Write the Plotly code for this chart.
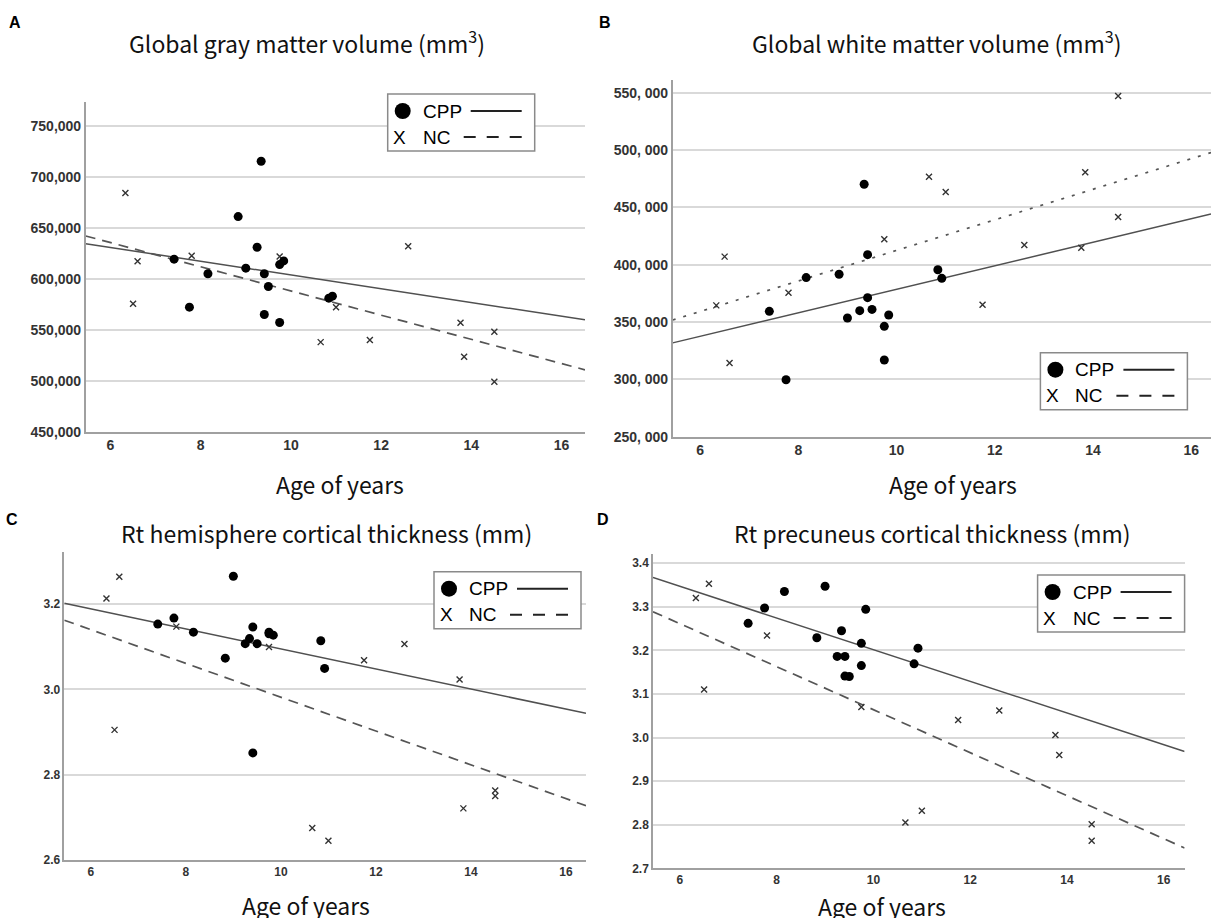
import numpy as np
import plotly.graph_objects as go

W, H = 1211, 918

# ---------------- data ----------------
cpp_age = [7.41, 7.75, 8.16, 8.83, 9.00, 9.25, 9.34, 9.41, 9.41, 9.50, 9.75, 9.75, 9.84, 10.84, 10.92]
nc_age = [6.33, 6.50, 6.60, 7.80, 9.75, 10.66, 11.00, 11.75, 12.60, 13.76, 13.84, 14.51, 14.51]

gm_cpp = [619300, 572200, 605000, 661100, 610500, 631000, 715400, 605000, 565000, 592500,
          614000, 557200, 617600, 581000, 583000]
gm_nc = [684300, 575500, 617300, 622600, 621900, 537900, 572200, 539900, 632000, 556900,
         523500, 548000, 499000]

wm_cpp = [359300, 299700, 388700, 391600, 353500, 359900, 470100, 408700, 371200, 361000,
          346200, 316900, 356100, 395600, 388100]
wm_nc = [364500, 407000, 314200, 375600, 422100, 476700, 463400, 365100, 417200, 414800,
         480500, 547100, 441600]

hemi_cpp = [3.153, 3.167, 3.134, 3.073, 3.265, 3.107, 3.119, 3.146, 2.851, 3.107,
            3.134, 3.130, 3.127, 3.114, 3.049]
hemi_nc = [3.213, 2.905, 3.264, 3.147, 3.099, 2.675, 2.645, 3.068, 3.106, 3.023,
           2.721, 2.763, 2.750]

prec_cpp = [3.262, 3.297, 3.335, 3.229, 3.347, 3.186, 3.245, 3.186, 3.141, 3.140,
            3.216, 3.165, 3.294, 3.169, 3.205]
prec_nc = [3.320, 3.110, 3.353, 3.234, 3.070, 2.805, 2.832, 3.040, 3.062, 3.006,
           2.960, 2.801, 2.763]

titles = ["Global gray matter volume (mm<sup>3</sup>)",
          "Global white matter volume (mm<sup>3</sup>)",
          "Rt hemisphere cortical thickness (mm)",
          "Rt precuneus cortical thickness (mm)"]
letters = ["A", "B", "C", "D"]
x_title = "Age of years"
x_ticks = [6, 8, 10, 12, 14, 16]
gm_ticks = [450000, 500000, 550000, 600000, 650000, 700000, 750000]
wm_ticks = [250000, 300000, 350000, 400000, 450000, 500000, 550000]
wm_ticklabels = ["250, 000", "300, 000", "350, 000", "400, 000", "450, 000", "500, 000", "550, 000"]
hemi_ticks = [2.6, 2.8, 3.0, 3.2]
prec_ticks = [2.7, 2.8, 2.9, 3.0, 3.1, 3.2, 3.3, 3.4]


# ---------------- layout helpers (pixel -> paper) ----------------
def px(x):
    return x / W


def py(y):
    return 1 - y / H


panels = [
    dict(key="", dom=(85.7, 585, 101.7, 431.7), xr=[5.45, 16.52], yr=[450000, 773800],
         cpp=gm_cpp, nc=gm_nc, yt=gm_ticks, ytt=None, yfmt=",d", fs=14, ncdash="10px,7px",
         title=(307, 42), letter=(15, 23), xlab=(340, 484), legend=(387.7, 94)),
    dict(key="2", dom=(672.7, 1211, 80, 436.7), xr=[5.443, 16.40], yr=[250000, 561000],
         cpp=wm_cpp, nc=wm_nc, yt=wm_ticks, ytt=wm_ticklabels, yfmt=None, fs=14, ncdash="3px,8px",
         title=(937, 42), letter=(605, 23), xlab=(953, 484), legend=(1040.4, 352.7)),
    dict(key="3", dom=(64.3, 586, 551.7, 860), xr=[5.443, 16.42], yr=[2.6, 3.3226],
         cpp=hemi_cpp, nc=hemi_nc, yt=hemi_ticks, ytt=None, yfmt=".1f", fs=12, ncdash="10px,7px",
         title=(326, 533), letter=(12, 519), xlab=(306, 905), legend=(434, 571.7)),
    dict(key="4", dom=(653, 1184.6, 554, 868.3), xr=[5.444, 16.43], yr=[2.7, 3.421],
         cpp=prec_cpp, nc=prec_nc, yt=prec_ticks, ytt=None, yfmt=".1f", fs=12, ncdash="10px,7px",
         title=(932, 533), letter=(603, 519), xlab=(882, 906), legend=(1037.6, 575)),
]

fig = go.Figure()
layout = dict(width=W, height=H, margin=dict(l=0, r=0, t=0, b=0), autosize=False,
              paper_bgcolor="white", plot_bgcolor="white", showlegend=False)
annotations = []
shapes = []

TICKFONT = "Liberation Sans"
TITLEFONT = "Noto Sans CJK JP"

for i, p in enumerate(panels):
    k = p["key"]
    xa, ya = "x" + k, "y" + k
    x0, x1, y0, y1 = p["dom"]
    layout["xaxis" + k] = dict(
        domain=[px(x0), px(x1)], range=p["xr"], anchor=ya, tickvals=x_ticks,
        showgrid=False, zeroline=False, showline=True, linecolor="#a0a0a0", linewidth=1.5,
        ticks="", automargin=False,
        tickfont=dict(family=TICKFONT, size=p["fs"], color="#333", weight="bold"),
    )
    yax = dict(
        domain=[py(y1), py(y0)], range=p["yr"], anchor=xa, tickvals=p["yt"],
        showgrid=True, gridcolor="#d9d9d9", gridwidth=1.5, zeroline=False,
        showline=True, linecolor="#a0a0a0", linewidth=1.5, ticks="", automargin=False,
        tickfont=dict(family=TICKFONT, size=p["fs"], color="#333", weight="bold"),
    )
    if p["ytt"] is not None:
        yax["ticktext"] = p["ytt"]
    else:
        yax["tickformat"] = p["yfmt"]
    layout["yaxis" + k] = yax

    # fit lines (OLS) across the axis range
    xs = np.array(p["xr"])
    bc = np.polyfit(cpp_age, p["cpp"], 1)
    bn = np.polyfit(nc_age, p["nc"], 1)
    fig.add_trace(go.Scatter(x=xs, y=np.polyval(bc, xs), mode="lines", xaxis=xa, yaxis=ya,
                             line=dict(color="#505050", width=1.5), hoverinfo="skip"))
    fig.add_trace(go.Scatter(x=xs, y=np.polyval(bn, xs), mode="lines", xaxis=xa, yaxis=ya,
                             line=dict(color="#555555", width=1.7, dash=p["ncdash"]), hoverinfo="skip"))
    # points
    fig.add_trace(go.Scatter(x=nc_age, y=p["nc"], mode="markers", xaxis=xa, yaxis=ya, name="NC",
                             marker=dict(symbol="x-thin", size=6, line=dict(color="#333", width=1.4))))
    fig.add_trace(go.Scatter(x=cpp_age, y=p["cpp"], mode="markers", xaxis=xa, yaxis=ya, name="CPP",
                             marker=dict(symbol="circle", size=9, color="black")))

    # texts
    tx, ty = p["title"]
    annotations.append(dict(x=px(tx), y=py(ty), xref="paper", yref="paper", text=titles[i],
                            showarrow=False, xanchor="center", yanchor="middle",
                            font=dict(family=TITLEFONT, size=23, color="#111")))
    lx, ly = p["letter"]
    annotations.append(dict(x=px(lx), y=py(ly), xref="paper", yref="paper", text=letters[i],
                            showarrow=False, xanchor="center", yanchor="middle",
                            font=dict(family="Liberation Sans", size=16, color="#000", weight="bold")))
    ax_, ay_ = p["xlab"]
    annotations.append(dict(x=px(ax_), y=py(ay_), xref="paper", yref="paper", text=x_title,
                            showarrow=False, xanchor="center", yanchor="middle",
                            font=dict(family=TITLEFONT, size=23, color="#111")))

    # custom legend box
    bx, by = p["legend"]
    bw, bh = 147, 57
    shapes.append(dict(type="rect", xref="paper", yref="paper", x0=px(bx), x1=px(bx + bw),
                       y0=py(by + bh), y1=py(by), line=dict(color="#8a8a8a", width=1.5),
                       fillcolor="white", layer="above"))
    r1, r2 = by + 17, by + 43
    shapes.append(dict(type="circle", xref="paper", yref="paper", x0=px(bx + 7), x1=px(bx + 23),
                       y0=py(r1 + 8), y1=py(r1 - 8), fillcolor="black", line=dict(color="black", width=0),
                       layer="above"))
    shapes.append(dict(type="line", xref="paper", yref="paper", x0=px(bx + 83), x1=px(bx + 134),
                       y0=py(r1), y1=py(r1), line=dict(color="#222", width=2), layer="above"))
    shapes.append(dict(type="line", xref="paper", yref="paper", x0=px(bx + 76), x1=px(bx + 135),
                       y0=py(r2), y1=py(r2), line=dict(color="#222", width=2, dash="12px,11px"),
                       layer="above"))
    annotations.append(dict(x=px(bx + 33), y=py(r1), xref="paper", yref="paper", text="CPP",
                            showarrow=False, xanchor="left", yanchor="middle",
                            font=dict(family="Liberation Sans", size=19, color="#000")))
    annotations.append(dict(x=px(bx + 33), y=py(r2), xref="paper", yref="paper", text="NC",
                            showarrow=False, xanchor="left", yanchor="middle",
                            font=dict(family="Liberation Sans", size=19, color="#000")))
    annotations.append(dict(x=px(bx + 12), y=py(r2), xref="paper", yref="paper", text="X",
                            showarrow=False, xanchor="center", yanchor="middle",
                            font=dict(family="Liberation Sans", size=19, color="#000")))

layout["annotations"] = annotations
layout["shapes"] = shapes
fig.update_layout(**layout)
fig.write_html("out.html", config={"displayModeBar": False},
               post_script="document.body.style.margin='0px';document.body.style.overflow='hidden';")
